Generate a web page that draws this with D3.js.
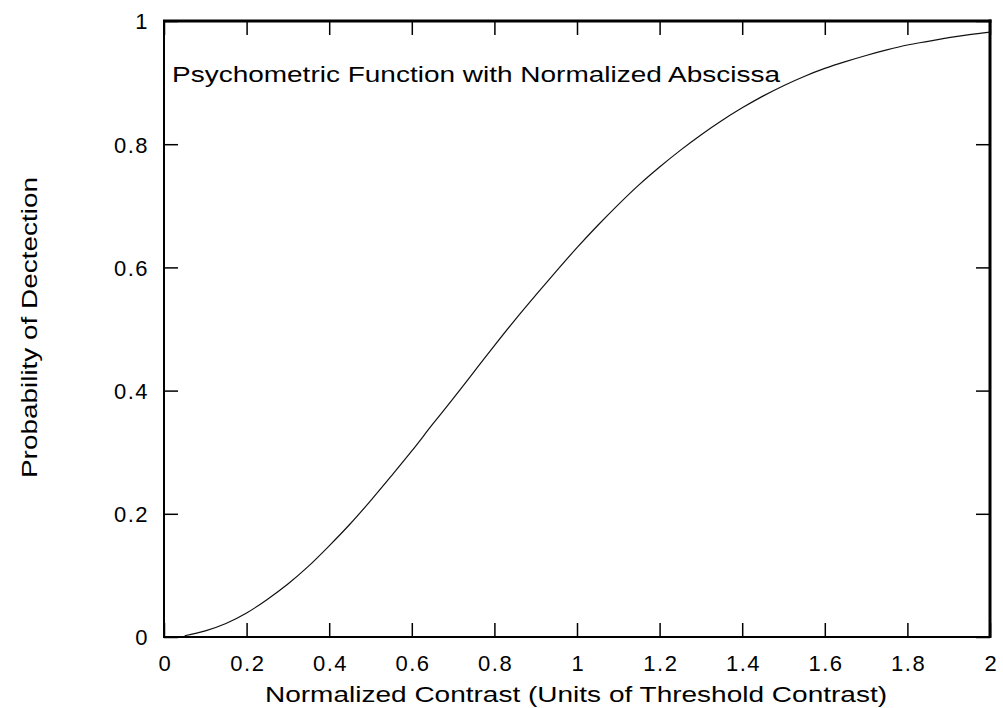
<!DOCTYPE html>
<html>
<head>
<meta charset="utf-8">
<script src="https://cdn.jsdelivr.net/npm/d3@7"></script>
<style>
  html, body { margin: 0; padding: 0; background: #fff; }
  svg { display: block; }
  text { font-family: "Liberation Sans", Arial, Helvetica, sans-serif; fill: #000; }
</style>
</head>
<body>
<svg id="chart" width="1003" height="708"></svg>
<script>
// ---- data ----
const contrast = [0.05,0.10,0.15,0.20,0.25,0.30,0.35,0.40,0.45,0.50,0.55,0.60,0.65,0.70,0.75,0.80,0.85,0.90,0.95,1.00,
                  1.05,1.10,1.15,1.20,1.25,1.30,1.35,1.40,1.45,1.50,1.55,1.60,1.65,1.70,1.75,1.80,1.85,1.90,1.95,2.00];
const probability = [0.002,0.010,0.022,0.039,0.061,0.086,0.115,0.148,0.183,0.221,0.261,0.302,0.345,0.387,0.430,0.473,0.515,0.555,0.594,0.632,
                     0.668,0.702,0.734,0.763,0.790,0.815,0.838,0.859,0.878,0.895,0.910,0.923,0.934,0.944,0.953,0.961,0.967,0.973,0.978,0.982];
const xTicks = [0,0.2,0.4,0.6,0.8,1,1.2,1.4,1.6,1.8,2];
const xTickLabels = ["0","0.2","0.4","0.6","0.8","1","1.2","1.4","1.6","1.8","2"];
const yTicks = [0,0.2,0.4,0.6,0.8,1];
const yTickLabels = ["0","0.2","0.4","0.6","0.8","1"];
const titleText = "Psychometric Function with Normalized Abscissa";
const xLabelText = "Normalized Contrast (Units of Threshold Contrast)";
const yLabelText = "Probability of Dectection";

// ---- layout ----
const L = 164, R = 990, T = 21, B = 637;
const fs = 22;
const tick = 14;

const svg = d3.select("#chart");
const x = d3.scaleLinear().domain([0, 2]).range([L, R]);
const y = d3.scaleLinear().domain([0, 1]).range([B, T]);

// axes (ticks inward)
const gB = svg.append("g").attr("transform", `translate(0,${B})`)
  .call(d3.axisBottom(x).tickValues(xTicks).tickFormat((d,i)=>xTickLabels[i]).tickSizeInner(-tick).tickSizeOuter(0).tickPadding(18));
const gT = svg.append("g").attr("transform", `translate(0,${T})`)
  .call(d3.axisTop(x).tickValues(xTicks).tickFormat("").tickSizeInner(-tick).tickSizeOuter(0));
const gL = svg.append("g").attr("transform", `translate(${L},0)`)
  .call(d3.axisLeft(y).tickValues(yTicks).tickFormat((d,i)=>yTickLabels[i]).tickSizeInner(-tick).tickSizeOuter(0).tickPadding(15));
const gR = svg.append("g").attr("transform", `translate(${R},0)`)
  .call(d3.axisRight(y).tickValues(yTicks).tickFormat("").tickSizeInner(-tick).tickSizeOuter(0));

[gB, gT, gL, gR].forEach(g => {
  g.select(".domain").remove();
  g.selectAll(".tick line").attr("stroke", "#000").attr("stroke-width", 1.5);
  g.selectAll(".tick text").attr("font-size", fs).attr("fill", "#000")
    .style("font-family", '"Liberation Sans", Arial, sans-serif')
    .style("letter-spacing", "1.5px");
});
gL.selectAll(".tick text").attr("dy", "0.36em");
gB.selectAll(".tick text").attr("dx", "0.75");

// frame: thin left/bottom, heavy top/right
svg.append("line").attr("x1", L).attr("x2", L).attr("y1", T).attr("y2", B+1).attr("stroke", "#000").attr("stroke-width", 2);
svg.append("line").attr("x1", L-1).attr("x2", R).attr("y1", B).attr("y2", B).attr("stroke", "#000").attr("stroke-width", 2);
svg.append("line").attr("x1", L-1).attr("x2", R+1.5).attr("y1", T).attr("y2", T).attr("stroke", "#000").attr("stroke-width", 3);
svg.append("line").attr("x1", R).attr("x2", R).attr("y1", T-1.5).attr("y2", B+1).attr("stroke", "#000").attr("stroke-width", 3);

// curve
const pts = contrast.map((c, i) => [c, probability[i]]);
svg.append("path")
  .datum(pts)
  .attr("fill", "none")
  .attr("stroke", "#111")
  .attr("stroke-width", 1.2)
  .attr("d", d3.line().x(d => x(d[0])).y(d => y(d[1])).curve(d3.curveMonotoneX));

// title inside plot
svg.append("text").attr("x", 172).attr("y", 82).attr("font-size", fs)
  .attr("textLength", 608).attr("lengthAdjust", "spacingAndGlyphs").text(titleText);

// x label
svg.append("text").attr("x", 265).attr("y", 702).attr("font-size", fs)
  .attr("textLength", 622).attr("lengthAdjust", "spacingAndGlyphs").text(xLabelText);

// y label
svg.append("text").attr("transform", "translate(37,478) rotate(-90)").attr("font-size", fs)
  .attr("textLength", 301).attr("lengthAdjust", "spacingAndGlyphs").text(yLabelText);
</script>
</body>
</html>
